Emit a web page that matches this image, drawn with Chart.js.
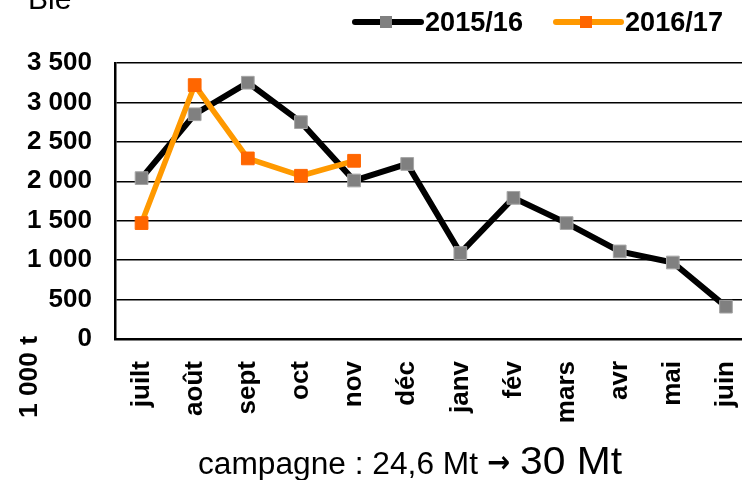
<!DOCTYPE html>
<html>
<head>
<meta charset="utf-8">
<script src="https://cdn.jsdelivr.net/npm/chart.js@4"></script>
<style>
  html, body { margin: 0; padding: 0; background: #fff; overflow: hidden; }
  #wrap { width: 780px; height: 480px; position: relative; }
</style>
</head>
<body>
<div id="wrap"><canvas id="chart"></canvas></div>
<script>
const months = ['juilt', 'août', 'sept', 'oct', 'nov', 'déc', 'janv', 'fév', 'mars', 'avr', 'mai', 'juin'];
const seriesNames = ['2015/16', '2016/17'];
const values1516 = [2040, 2850, 3250, 2750, 2010, 2220, 1090, 1790, 1470, 1110, 970, 410];
const values1617 = [1470, 3220, 2290, 2070, 2260];
const yTicks = [0, 500, 1000, 1500, 2000, 2500, 3000, 3500];

const FONT = '"Liberation Sans", Arial, sans-serif';

function formatThousands(v) {
  return String(v).replace(/\B(?=(\d{3})+(?!\d))/g, ' ');
}

// draw a text stretched or squeezed to a given width
function fitText(ctx, text, x, y, width) {
  const w = ctx.measureText(text).width;
  ctx.save();
  ctx.translate(x, y);
  ctx.scale(width / w, 1);
  ctx.fillText(text, 0, 0);
  ctx.restore();
}

const extras = {
  id: 'extras',
  afterDraw(chart) {
    const ctx = chart.ctx;
    ctx.save();
    ctx.fillStyle = '#000';
    ctx.textBaseline = 'alphabetic';
    ctx.textAlign = 'left';

    // title, mostly cut off at the top
    ctx.font = '30px ' + FONT;
    ctx.fillText('Blé', 28, 9);

    // unit label
    ctx.save();
    ctx.translate(37, 377);
    ctx.rotate(-Math.PI / 2);
    ctx.font = 'bold 26px ' + FONT;
    fitText(ctx, '1 000 t', -41, 0, 82);
    ctx.restore();

    // legend
    const legend = [
      { x0: 355, x1: 421, mark: 386, line: '#000000', fill: '#808080', text: 425 },
      { x0: 556, x1: 621, mark: 586, line: '#ff9900', fill: '#ff6600', text: 625 }
    ];
    legend.forEach((l, i) => {
      ctx.strokeStyle = l.line;
      ctx.lineWidth = 6;
      ctx.lineCap = 'round';
      ctx.beginPath();
      ctx.moveTo(l.x0, 22);
      ctx.lineTo(l.x1, 22);
      ctx.stroke();
      ctx.fillStyle = l.fill;
      ctx.fillRect(l.mark - 6, 16, 12, 12);
      ctx.fillStyle = '#000';
      ctx.font = 'bold 28px ' + FONT;
      ctx.textBaseline = 'middle';
      fitText(ctx, seriesNames[i], l.text, 23, 98);
    });

    // caption
    ctx.textBaseline = 'alphabetic';
    ctx.font = '31px ' + FONT;
    fitText(ctx, 'campagne : 24,6 Mt', 198, 474, 280);
    ctx.font = 'bold 30px "DejaVu Sans", sans-serif';
    fitText(ctx, '→', 487, 472, 23);
    ctx.font = '39px ' + FONT;
    fitText(ctx, '30 Mt', 520, 474, 102);
    ctx.restore();
  }
};

new Chart(document.getElementById('chart'), {
  type: 'line',
  data: {
    labels: months,
    datasets: [
      {
        label: seriesNames[0],
        data: values1516,
        borderColor: '#000000',
        borderWidth: 6,
        pointStyle: 'rect',
        pointRadius: 9,
        pointBackgroundColor: '#808080',
        pointBorderColor: '#a6a6a6',
        pointBorderWidth: 1,
        tension: 0,
        order: 2
      },
      {
        label: seriesNames[1],
        data: values1617,
        borderColor: '#ff9900',
        borderWidth: 5.5,
        pointStyle: 'rect',
        pointRadius: 9,
        pointBackgroundColor: '#ff6600',
        pointBorderColor: '#ff6600',
        pointBorderWidth: 1,
        tension: 0,
        order: 1
      }
    ]
  },
  options: {
    responsive: true,
    maintainAspectRatio: false,
    animation: false,
    layout: { padding: { top: 63, right: 20, left: 0, bottom: 0 } },
    plugins: {
      legend: { display: false },
      tooltip: { enabled: false }
    },
    scales: {
      x: {
        offset: true,
        grid: { display: false, drawTicks: false },
        border: { display: true, color: '#000', width: 2.5 },
        ticks: {
          color: '#000',
          font: { family: FONT, size: 26, weight: 'bold' },
          minRotation: 90,
          maxRotation: 90,
          padding: 22,
          autoSkip: false
        },
        afterFit(scale) { scale.height = 141; }
      },
      y: {
        min: 0,
        max: 3500,
        afterBuildTicks(scale) { scale.ticks = yTicks.map((v) => ({ value: v })); },
        grid: { color: '#000', lineWidth: 1.5, drawTicks: false },
        border: { display: true, color: '#000', width: 2.5 },
        ticks: {
          color: '#000',
          font: { family: FONT, size: 26, weight: 'bold' },
          padding: 23,
          callback: (v) => formatThousands(v)
        },
        afterFit(scale) { scale.width = 115; }
      }
    }
  },
  plugins: [extras]
});
</script>
</body>
</html>
